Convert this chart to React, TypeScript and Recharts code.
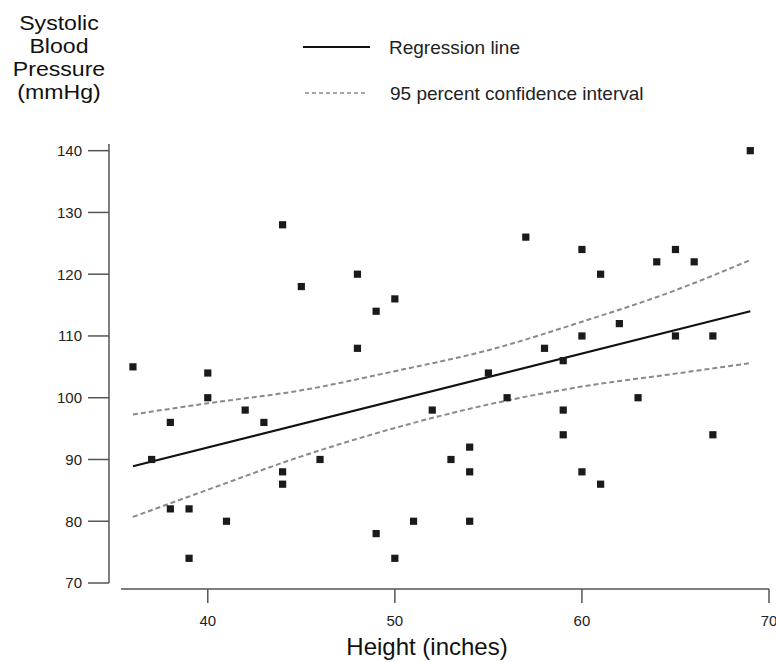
import React from "react";
import {
  ComposedChart,
  Scatter,
  Line,
  XAxis,
  YAxis,
  ZAxis,
  ReferenceLine,
} from "recharts";

// observed children: height (inches) and systolic pressure (mmHg)
const heights = [
  36, 37, 38, 38, 39, 39, 40, 40, 41, 42, 43, 44, 44, 44, 45, 46, 48, 48, 49,
  49, 50, 50, 51, 52, 53, 54, 54, 54, 55, 56, 57, 58, 59, 59, 59, 60, 60, 60,
  61, 61, 62, 63, 64, 65, 65, 66, 67, 67, 69,
];
const pressures = [
  105, 90, 96, 82, 82, 74, 104, 100, 80, 98, 96, 128, 88, 86, 118, 90, 120,
  108, 114, 78, 116, 74, 80, 98, 90, 92, 88, 80, 104, 100, 126, 108, 106, 98,
  94, 124, 110, 88, 120, 86, 112, 100, 122, 124, 110, 122, 110, 94, 140,
];

// fitted line
const fitX = [36, 69];
const fitY = [88.9, 114.0];

// 95% confidence band
const bandX = [36, 40, 45, 50, 55, 60, 65, 69];
const bandUpper = [97.3, 99.1, 101.2, 104.3, 107.7, 112.3, 117.4, 122.3];
const bandLower = [80.7, 85.1, 90.5, 95.1, 98.9, 101.8, 103.9, 105.6];

const xTicks = [40, 50, 60, 70];
const yTicks = [70, 80, 90, 100, 110, 120, 130, 140];

const yTitle = ["Systolic", "Blood", "Pressure", "(mmHg)"];

const points = heights.map((h, i) => ({ x: h, y: pressures[i] }));
const fitLine = fitX.map((x, i) => ({ x, y: fitY[i] }));
const upperLine = bandX.map((x, i) => ({ x, y: bandUpper[i] }));
const lowerLine = bandX.map((x, i) => ({ x, y: bandLower[i] }));

const font = "'Liberation Sans', Arial, Helvetica, sans-serif";
const axisColor = "#555";

export default function App() {
  return (
    <div
      style={{
        position: "absolute",
        left: 0,
        top: 0,
        width: 776,
        height: 662,
        background: "#fff",
        fontFamily: font,
      }}
    >
      <ComposedChart
        width={776}
        height={662}
        margin={{ top: 144, right: 7, bottom: 0, left: 0 }}
      >
        <XAxis
          type="number"
          dataKey="x"
          domain={[34.72, 70]}
          ticks={xTicks}
          interval={0}
          allowDataOverflow
          axisLine={false}
          tickLine={{ stroke: axisColor, strokeWidth: 1.5 }}
          tickSize={14}
          tickMargin={12}
          height={73}
          tick={{ fill: "#222", fontSize: 15, fontFamily: font }}
          label={{
            value: "Height (inches)",
            position: "insideBottom",
            offset: 7,
            dx: -12,
            fill: "#111",
            fontSize: 24,
            fontFamily: font,
          }}
        />
        <YAxis
          type="number"
          dataKey="y"
          domain={[69.03, 141.08]}
          ticks={yTicks}
          interval={0}
          allowDataOverflow
          axisLine={false}
          tickLine={{ stroke: axisColor, strokeWidth: 1.5 }}
          tickSize={21}
          tickMargin={6}
          width={109}
          tick={{ fill: "#222", fontSize: 15, fontFamily: font }}
        />
        <ZAxis range={[52, 52]} />
        <ReferenceLine
          segment={[
            { x: 34.72, y: 70 },
            { x: 34.72, y: 141.08 },
          ]}
          stroke={axisColor}
          strokeWidth={1.5}
          ifOverflow="visible"
        />
        <ReferenceLine
          segment={[
            { x: 35.36, y: 69.03 },
            { x: 70, y: 69.03 },
          ]}
          stroke={axisColor}
          strokeWidth={1.5}
          ifOverflow="visible"
        />
        <Line
          data={upperLine}
          dataKey="y"
          type="monotone"
          stroke="#8a8a8a"
          strokeWidth={2}
          strokeDasharray="5 3"
          dot={false}
          isAnimationActive={false}
        />
        <Line
          data={lowerLine}
          dataKey="y"
          type="monotone"
          stroke="#8a8a8a"
          strokeWidth={2}
          strokeDasharray="5 3"
          dot={false}
          isAnimationActive={false}
        />
        <Line
          data={fitLine}
          dataKey="y"
          type="linear"
          stroke="#111"
          strokeWidth={2}
          dot={false}
          isAnimationActive={false}
        />
        <Scatter
          data={points}
          dataKey="y"
          fill="#1a1a1a"
          shape="square"
          isAnimationActive={false}
        />
      </ComposedChart>

      <svg
        width={776}
        height={130}
        style={{ position: "absolute", left: 0, top: 0, pointerEvents: "none" }}
      >
        <g fontFamily={font} fill="#111" fontSize={21} textAnchor="middle">
          {yTitle.map((t, i) => (
            <text
              key={t}
              x={59}
              y={30 + i * 23}
              transform={`translate(59 0) scale(1.1 1) translate(-59 0)`}
            >
              {t}
            </text>
          ))}
        </g>
        <line x1={303} x2={370} y1={47} y2={47} stroke="#111" strokeWidth={2} />
        <line
          x1={305}
          x2={368}
          y1={93}
          y2={93}
          stroke="#8a8a8a"
          strokeWidth={1.5}
          strokeDasharray="4 3"
        />
        <g fontFamily={font} fill="#222" fontSize={19}>
          <text x={389} y={54}>Regression line</text>
          <text x={390} y={100}>95 percent confidence interval</text>
        </g>
      </svg>
    </div>
  );
}
